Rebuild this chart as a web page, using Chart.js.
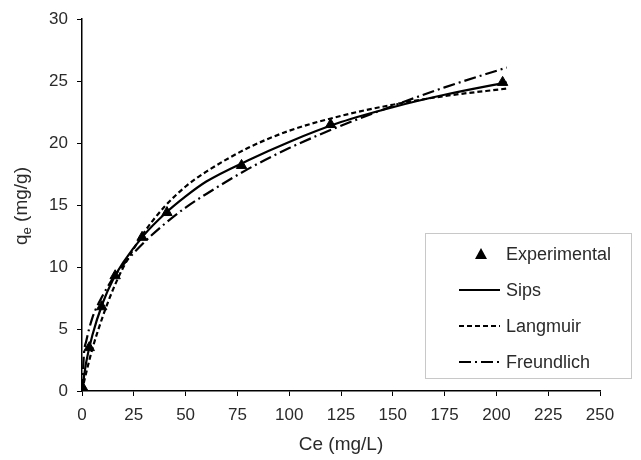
<!DOCTYPE html>
<html>
<head>
<meta charset="utf-8">
<script src="https://cdn.jsdelivr.net/npm/chart.js@4.4.1/dist/chart.umd.min.js"></script>
<style>
  html, body { margin: 0; padding: 0; background: #fff; }
  #wrap { width: 641px; height: 460px; }
</style>
</head>
<body>
<div id="wrap"><canvas id="c"></canvas></div>
<script>
// experimental points
const ceExp = [0.6, 3.5, 9.5, 16, 29, 41, 77, 120, 203];
const qeExp = [0.2, 3.5, 6.8, 9.3, 12.4, 14.4, 18.2, 21.5, 24.9];

// model curves, sampled along Ce
const ceFit = [0, 1, 2, 5, 10, 15, 20, 30, 40, 50, 60, 80, 100, 125, 150, 175, 205];
const sips = [0, 1.2, 2.3, 4.5, 7.1, 9.0, 10.4, 12.6, 14.3, 15.7, 16.9, 18.6, 20.1, 21.7, 22.9, 23.9, 24.9];
const langmuir = [0, 0.75, 1.45, 3.4, 6.0, 8.2, 10.0, 12.8, 14.9, 16.5, 17.7, 19.6, 21.0, 22.2, 23.1, 23.8, 24.4];
const freundlich = [0, 3.1, 4.0, 5.9, 7.7, 9.1, 10.2, 12.0, 13.5, 14.8, 15.9, 17.9, 19.6, 21.4, 23.0, 24.5, 26.1];

const xTicks = [0, 25, 50, 75, 100, 125, 150, 175, 200, 225, 250];
const yTicks = [0, 5, 10, 15, 20, 25, 30];

const FONT = 'Liberation Sans, Arial, sans-serif';
const TXT = '#2a2a2a';
const pts = (xs, ys) => xs.map((x, i) => ({ x, y: ys[i] }));

const lineSet = (label, ys, dash) => ({
  label,
  data: pts(ceFit, ys),
  showLine: true,
  borderColor: '#000',
  borderWidth: 2.2,
  borderDash: dash,
  pointRadius: 0,
  cubicInterpolationMode: 'monotone',
  fill: false
});

// legend box + y title drawn by hand (subscript "e")
const extras = {
  id: 'extras',
  afterDraw(chart) {
    const ctx = chart.ctx;
    ctx.save();

    // y axis title
    ctx.translate(22, 206);
    ctx.rotate(-Math.PI / 2);
    ctx.fillStyle = TXT;
    ctx.textBaseline = 'middle';
    ctx.font = '19px ' + FONT;
    const w1 = ctx.measureText('q').width;
    ctx.font = '13px ' + FONT;
    const w2 = ctx.measureText('e').width;
    ctx.font = '19px ' + FONT;
    const w3 = ctx.measureText(' (mg/g)').width;
    let x = -(w1 + w2 + w3) / 2;
    ctx.fillText('q', x, 0);
    x += w1;
    ctx.font = '13px ' + FONT;
    ctx.fillText('e', x, 5);
    x += w2;
    ctx.font = '19px ' + FONT;
    ctx.fillText(' (mg/g)', x, 0);
    ctx.restore();

    // legend
    ctx.save();
    ctx.fillStyle = '#fff';
    ctx.fillRect(425, 233, 206, 145);
    ctx.strokeStyle = '#c8c8c8';
    ctx.lineWidth = 1;
    ctx.strokeRect(425.5, 233.5, 206, 145);

    const rows = chart.data.datasets;
    ctx.font = '18px ' + FONT;
    ctx.textBaseline = 'middle';
    rows.forEach((ds, i) => {
      const yy = 254 + i * 36;
      ctx.fillStyle = '#000';
      ctx.strokeStyle = '#000';
      if (ds.showLine) {
        ctx.lineWidth = 2.2;
        ctx.setLineDash(ds.borderDash || []);
        ctx.beginPath();
        ctx.moveTo(459, yy);
        ctx.lineTo(500, yy);
        ctx.stroke();
        ctx.setLineDash([]);
      } else {
        ctx.beginPath();
        ctx.moveTo(481, yy - 6);
        ctx.lineTo(487, yy + 5);
        ctx.lineTo(475, yy + 5);
        ctx.closePath();
        ctx.fill();
      }
      ctx.fillStyle = TXT;
      ctx.fillText(ds.label, 506, yy + 1);
    });
    ctx.restore();
  }
};

new Chart(document.getElementById('c'), {
  type: 'scatter',
  data: {
    datasets: [
      {
        label: 'Experimental',
        data: pts(ceExp, qeExp),
        pointStyle: 'triangle',
        pointRadius: 6,
        backgroundColor: '#000',
        borderColor: '#000',
        showLine: false
      },
      lineSet('Sips', sips, []),
      lineSet('Langmuir', langmuir, [5, 3]),
      lineSet('Freundlich', freundlich, [12, 4, 2, 4])
    ]
  },
  options: {
    responsive: true,
    maintainAspectRatio: false,
    animation: false,
    layout: { padding: { top: 19, right: 41, left: 0, bottom: 0 } },
    plugins: {
      legend: { display: false },
      tooltip: { enabled: false }
    },
    scales: {
      x: {
        type: 'linear',
        min: 0, max: 250,
        afterFit: s => { s.height = 69; },
        afterBuildTicks: s => { s.ticks = xTicks.map(v => ({ value: v })); },
        ticks: { color: TXT, font: { family: FONT, size: 17 }, padding: 9 },
        grid: { drawOnChartArea: false, color: '#000', tickLength: 5 },
        border: { color: '#000', width: 1.5 },
        title: {
          display: true, text: 'Ce (mg/L)', color: TXT,
          font: { family: FONT, size: 19 }, padding: { top: 6 }
        }
      },
      y: {
        type: 'linear',
        min: 0, max: 30,
        afterFit: s => { s.width = 82; },
        afterBuildTicks: s => { s.ticks = yTicks.map(v => ({ value: v })); },
        ticks: { color: TXT, font: { family: FONT, size: 17 }, padding: 9 },
        grid: { drawOnChartArea: false, color: '#000', tickLength: 5 },
        border: { color: '#000', width: 1.5 }
      }
    }
  },
  plugins: [extras]
});
</script>
</body>
</html>
